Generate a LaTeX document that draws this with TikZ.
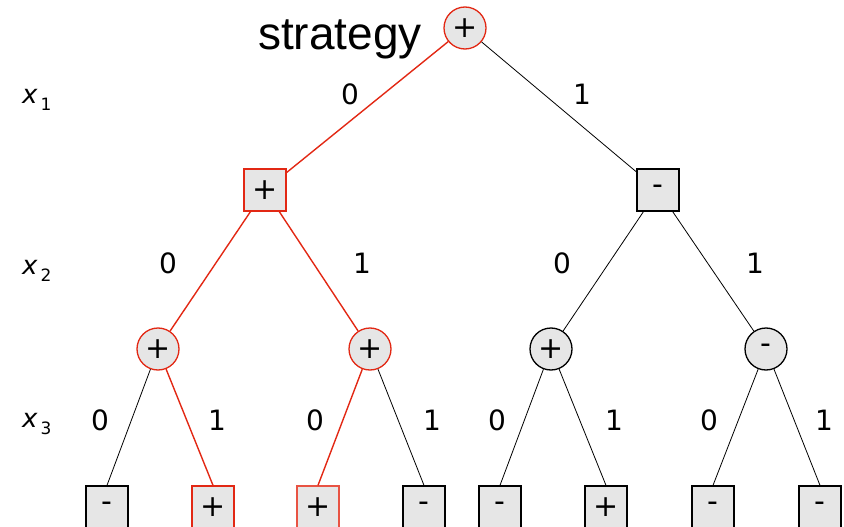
\documentclass[tikz,border=0pt]{standalone}
\usepackage{fontspec}
\setmainfont{DejaVu Sans}
\newfontfamily\arialfont{Liberation Sans}
\definecolor{nodegray}{RGB}{230,230,230}
\definecolor{hred}{RGB}{226,40,20}
\begin{document}
\begin{tikzpicture}[x=1pt,y=-1pt,
  sym/.style={font=\fontsize{30}{32}\selectfont},
  cnode/.style={circle, draw=black, fill=nodegray, minimum size=42pt, inner sep=0pt, line width=1.3pt, sym},
  snode/.style={rectangle, draw=black, fill=nodegray, minimum size=42pt, inner sep=0pt, line width=1.3pt, sym},
  hl/.style={draw=hred},
  edge/.style={line width=0.8pt, black},
  redge/.style={line width=1.4pt, hred},
  lbl/.style={font=\fontsize{28}{30}\selectfont, inner sep=0pt},
  varlbl/.style={font=\fontsize{26}{28}\selectfont\itshape, inner sep=0pt, anchor=base west}
]
\useasboundingbox (0,0) rectangle (844,527);

% title
\node[font=\arialfont\fontsize{46}{48}\selectfont, inner sep=0pt, anchor=base] (title) at (340,50) {strategy};

% variable labels
\node[varlbl] (x1) at (22,103) {x\kern3pt\raisebox{-7pt}{\upshape\fontsize{17}{17}\selectfont 1}};
\node[varlbl] (x2) at (22,274) {x\kern3pt\raisebox{-7pt}{\upshape\fontsize{17}{17}\selectfont 2}};
\node[varlbl] (x3) at (22,427) {x\kern3pt\raisebox{-7pt}{\upshape\fontsize{17}{17}\selectfont 3}};

% nodes
\node[cnode, hl] (root) at (465,28) {+};
\node[snode, hl] (L) at (265,190) {+};
\node[snode] (R) at (658,190) {-};
\node[cnode, hl] (LL) at (158,349) {+};
\node[cnode, hl] (LR) at (370,349) {+};
\node[cnode] (RL) at (551,349) {+};
\node[cnode] (RR) at (766,349) {-};
\node[snode] (l1) at (107,507) {-};
\node[snode, hl] (l2) at (213,507) {+};
\node[snode, draw=hred!80] (l3) at (318,507) {+};
\node[snode] (l4) at (424,507) {-};
\node[snode] (l5) at (500,507) {-};
\node[snode] (l6) at (606,507) {+};
\node[snode] (l7) at (713,507) {-};
\node[snode] (l8) at (820,507) {-};

% edges
\draw[redge] (root) -- (L);
\draw[edge] (root) -- (R);
\draw[redge] (L) -- (LL);
\draw[redge] (L) -- (LR);
\draw[edge] (R) -- (RL);
\draw[edge] (R) -- (RR);
\draw[edge] (LL) -- (l1.north);
\draw[redge] (LL) -- (l2.north);
\draw[redge] (LR) -- (l3.north);
\draw[edge] (LR) -- (l4.north);
\draw[edge] (RL) -- (l5.north);
\draw[edge] (RL) -- (l6.north);
\draw[edge] (RR) -- (l7.north);
\draw[edge] (RR) -- (l8.north);

% edge labels
\node[lbl] (e1) at (350,94) {0};
\node[lbl] (e2) at (582,94) {1};
\node[lbl] (e3) at (168,263) {0};
\node[lbl] (e4) at (362,263) {1};
\node[lbl] (e5) at (562,263) {0};
\node[lbl] (e6) at (755,263) {1};
\node[lbl] (e7) at (100,420) {0};
\node[lbl] (e8) at (217,420) {1};
\node[lbl] (e9) at (315,420) {0};
\node[lbl] (e10) at (432,420) {1};
\node[lbl] (e11) at (497,420) {0};
\node[lbl] (e12) at (614,420) {1};
\node[lbl] (e13) at (709,420) {0};
\node[lbl] (e14) at (824,420) {1};
\end{tikzpicture}
\end{document}
